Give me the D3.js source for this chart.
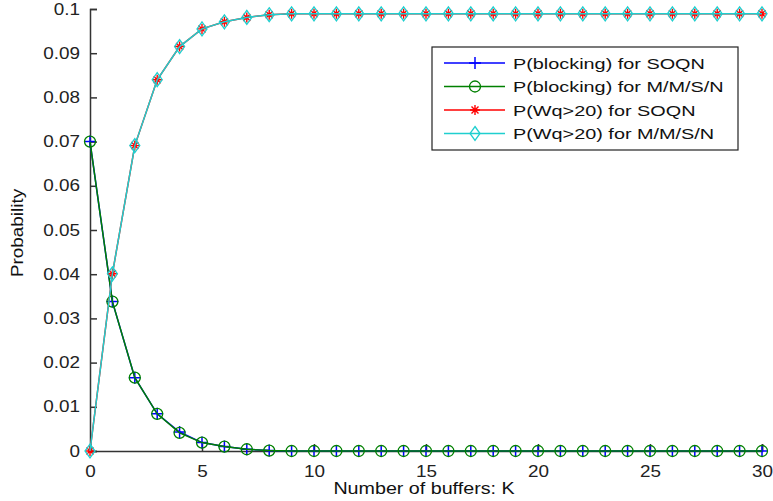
<!DOCTYPE html>
<html>
<head>
<meta charset="utf-8">
<title>Probability vs number of buffers</title>
<style>
    body { margin: 0; background: white; }
    svg { display: block; font-family: "Liberation Sans", Arial, sans-serif; }
    .tick text { font-size: 16px; fill: #222; }
    .axisLine { stroke: #333; stroke-width: 1.5px; }
    .legendText { font-size: 15.5px; fill: #111; }
</style>
</head>
<body>
<script src="https://cdn.jsdelivr.net/npm/d3@7"></script>
<script>

    const buffers = d3.range(0, 31);
    const blockSOQN = [0.0700, 0.0338, 0.0166, 0.0084, 0.0043, 0.0019, 0.0010, 0.0004, 0.0001,
        0, 0, 0, 0, 0, 0, 0, 0, 0, 0, 0, 0, 0, 0, 0, 0, 0, 0, 0, 0, 0, 0];
    const blockMMSN = [0.0700, 0.0338, 0.0166, 0.0084, 0.0041, 0.0019, 0.0010, 0.0004, 0.0001,
        0, 0, 0, 0, 0, 0, 0, 0, 0, 0, 0, 0, 0, 0, 0, 0, 0, 0, 0, 0, 0, 0];
    const wqSOQN = [0, 0.0401, 0.0691, 0.0840, 0.0915, 0.0955, 0.0971, 0.0981, 0.0987,
        0.0989, 0.0989, 0.0989, 0.0989, 0.0989, 0.0989, 0.0989, 0.0989, 0.0989, 0.0989, 0.0989,
        0.0989, 0.0989, 0.0989, 0.0989, 0.0989, 0.0989, 0.0989, 0.0989, 0.0989, 0.0989, 0.0989];
    const wqMMSN = [0, 0.0401, 0.0691, 0.0840, 0.0915, 0.0955, 0.0971, 0.0981, 0.0987,
        0.0989, 0.0989, 0.0989, 0.0989, 0.0989, 0.0989, 0.0989, 0.0989, 0.0989, 0.0989, 0.0989,
        0.0989, 0.0989, 0.0989, 0.0989, 0.0989, 0.0989, 0.0989, 0.0989, 0.0989, 0.0989, 0.0989];
    const xTicks = [0, 5, 10, 15, 20, 25, 30];
    const yTicks = [0, 0.01, 0.02, 0.03, 0.04, 0.05, 0.06, 0.07, 0.08, 0.09, 0.1];

    const series = [
        {name: "P(blocking) for SOQN", values: blockSOQN, color: "#0000ff", marker: "plus"},
        {name: "P(blocking) for M/M/S/N", values: blockMMSN, color: "#008000", marker: "circle"},
        {name: "P(Wq>20) for SOQN", values: wqSOQN, color: "#ff0000", marker: "star"},
        {name: "P(Wq>20) for M/M/S/N", values: wqMMSN, color: "#1fcfcf", marker: "diamond"}
    ];

    const width = 773, height = 501;
    const plotLeft = 90, plotRight = 762, plotTop = 9, plotBottom = 451;

    const svg = d3.select("body").append("svg").attr("width", width).attr("height", height);

    const x = d3.scaleLinear().domain([0, 30]).range([plotLeft, plotRight]);
    const y = d3.scaleLinear().domain([0, 0.1]).range([plotBottom, plotTop]);

    // the original screen font is wider than Liberation Sans, stretch text sideways
    function stretch(sel, k) {
        sel.each(function () {
            const w = this.getComputedTextLength();
            d3.select(this).attr("textLength", w * k).attr("lengthAdjust", "spacingAndGlyphs");
        });
    }

    // axes, ticks pointing inward like matlab
    const xAxis = svg.append("g")
        .attr("transform", "translate(0," + plotBottom + ")")
        .call(d3.axisBottom(x).tickValues(xTicks).tickSize(-7).tickPadding(12).tickFormat(d3.format("d")));
    const yAxis = svg.append("g")
        .attr("transform", "translate(" + plotLeft + ",0)")
        .call(d3.axisLeft(y).tickValues(yTicks).tickSize(-7).tickPadding(10).tickFormat(d => d === 0 ? "0" : String(+d.toFixed(2))));
    [xAxis, yAxis].forEach(a => {
        a.select(".domain").attr("class", "axisLine").attr("fill", "none");
        a.selectAll(".tick line").attr("stroke", "#333").attr("stroke-width", 1.5);
        a.attr("font-family", null).attr("font-size", null);
        stretch(a.selectAll(".tick text"), 1.18);
    });
    xAxis.selectAll(".tick text").attr("dy", "0.85em");

    function drawMarker(g, type, color) {
        if (type === "plus") {
            g.append("path").attr("d", "M-6,0H6M0,-6V6").attr("stroke", color).attr("stroke-width", 1.5).attr("fill", "none");
        } else if (type === "circle") {
            g.append("circle").attr("r", 5.5).attr("stroke", color).attr("stroke-width", 1.3).attr("fill", "none");
        } else if (type === "star") {
            g.append("path").attr("d", "M-5,0H5M0,-5V5M-3.5,-3.5L3.5,3.5M-3.5,3.5L3.5,-3.5")
                .attr("stroke", color).attr("stroke-width", 1.4).attr("fill", "none");
        } else {
            g.append("path").attr("d", "M0,-7L5,0L0,7L-5,0Z").attr("stroke", color).attr("stroke-width", 1.3).attr("fill", "none");
        }
    }

    const line = d3.line().x((d, i) => x(buffers[i])).y(d => y(d));

    series.forEach(s => {
        svg.append("path")
            .datum(s.values)
            .attr("d", line)
            .attr("fill", "none")
            .attr("stroke", s.color)
            .attr("stroke-width", 1.5);
        svg.append("g").selectAll("g")
            .data(s.values)
            .join("g")
            .attr("transform", (d, i) => "translate(" + x(buffers[i]) + "," + y(d) + ")")
            .each(function () { drawMarker(d3.select(this), s.marker, s.color); });
    });

    // axis labels
    svg.append("text")
        .attr("x", 424)
        .attr("y", 494)
        .attr("text-anchor", "middle")
        .attr("font-size", 16)
        .attr("fill", "#111")
        .text("Number of buffers: K")
        .call(stretch, 1.23);
    svg.append("text")
        .attr("transform", "translate(23,233) rotate(-90)")
        .attr("text-anchor", "middle")
        .attr("font-size", 16)
        .attr("fill", "#111")
        .text("Probability")
        .call(stretch, 1.18);

    // legend
    const legend = svg.append("g").attr("transform", "translate(432,47)");
    legend.append("rect")
        .attr("width", 306).attr("height", 103)
        .attr("fill", "white").attr("stroke", "#222").attr("stroke-width", 1.2);
    series.forEach((s, i) => {
        const row = legend.append("g").attr("transform", "translate(0," + (16 + i * 23.5) + ")");
        row.append("line").attr("x1", 12).attr("x2", 73).attr("stroke", s.color).attr("stroke-width", 1.5);
        drawMarker(row.append("g").attr("transform", "translate(43,0)"), s.marker, s.color);
        row.append("text").attr("class", "legendText").attr("x", 81).attr("dy", "0.36em").text(s.name)
            .call(stretch, 1.28);
    });

</script>
</body>
</html>
